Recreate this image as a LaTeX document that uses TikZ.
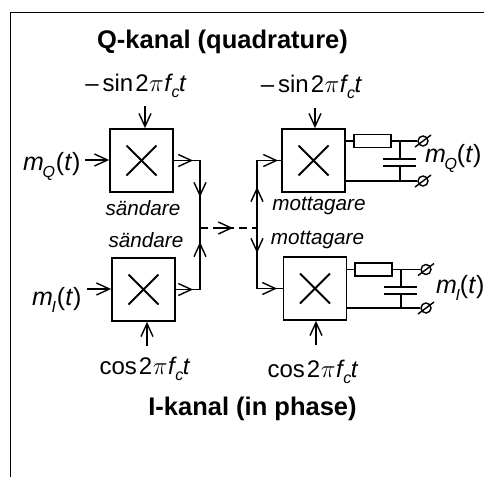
\documentclass[tikz,border=0pt]{standalone}
\usepackage{fontspec}
\setmainfont{Liberation Sans}
\usepackage{tikz}
\usetikzlibrary{arrows.meta,positioning}
\newcommand{\lowsub}[1]{\kern-0.06em\raisebox{-0.28em}{\fontsize{16}{16}\selectfont\textit{#1}}}
\newcommand{\carrier}{2\kern0.5pt$\pi$\kern0.5pt\textit{f}\lowsub{c}\kern-0.02em\textit{t}}

\begin{document}
\begin{tikzpicture}[
    x=1pt, y=-1pt,
    mixer/.style={draw, line width=1.8pt, minimum size=63pt, inner sep=0pt},
    res/.style={draw, line width=1.8pt, minimum width=37pt, minimum height=13pt, inner sep=0pt},
    wire/.style={line width=1.8pt},
    sig/.style={line width=1.4pt, -{Straight Barb[length=13pt,width=12pt]}},
    heading/.style={font=\fontsize{25.5}{28}\selectfont\bfseries, inner sep=0pt, anchor=base},
    lab/.style={font=\fontsize{24}{26}\selectfont, inner sep=0pt, anchor=base},
    msg/.style={font=\fontsize{25}{27}\selectfont, inner sep=0pt, anchor=base west},
    tag/.style={font=\fontsize{20.7}{23}\selectfont\itshape, inner sep=0pt, anchor=base},
    term/.style={circle, draw, line width=1.4pt, minimum size=10pt, inner sep=0pt}
]
\useasboundingbox (0,0) rectangle (484,477);
\draw[line width=1pt] (484,12.5) -- (10.5,12.5) -- (10.5,477);

\node[heading] (titleq) at (222.5,48) {Q-kanal (quadrature)};
\node[heading] (titlei) at (252.5,415) {I-kanal (in phase)};

% mixers
\node[mixer] (txq) at (141.5,160.5) {};
\node[mixer] (txi) at (143.5,289.5) {};
\node[mixer] (rxq) at (313.5,160.5) {};
\node[mixer] (rxi) at (315,288.5) {};
\foreach \m in {txq,txi,rxq,rxi} {
    \draw[wire] ([shift={(-15,-15)}]\m.center) -- ([shift={(15,15)}]\m.center);
    \draw[wire] ([shift={(-15,15)}]\m.center) -- ([shift={(15,-15)}]\m.center);
}

\node[lab] (oscq) at (136,91) {–\kern4pt sin\kern2pt\carrier};
\node[lab] (osci) at (145,374) {cos\kern2pt\carrier};
\node[lab] (oscq2) at (311.5,92) {–\kern4pt sin\kern2pt\carrier};
\node[lab] (osci2) at (313,377) {cos\kern2pt\carrier};
\node[msg] (msgq) at (23,170) {\textit{m}\lowsub{Q}\kern1pt(\textit{t})};
\node[msg] (msgi) at (32,305) {\textit{m}\lowsub{I}\kern1pt(\textit{t})};
\node[msg] (outq) at (425,162) {\textit{m}\lowsub{Q}(\textit{t})};
\node[msg] (outi) at (436,293) {\textit{m}\lowsub{I}(\textit{t})};
\node[tag] (sq) at (143,215) {sändare};
\node[tag] (si) at (146,247) {sändare};
\node[tag] (mq) at (319,210) {mottagare};
\node[tag] (mi) at (317.5,244) {mottagare};

% inputs
\coordinate (oscqend) at (145,106);
\coordinate (osciend) at (147,346);
\coordinate (oscq2end) at (315,108);
\coordinate (osci2end) at (316,345);
\coordinate (msgqend) at (85,160);
\coordinate (msgiend) at (87,289);
\draw[sig] (oscqend) -- (oscqend |- txq.north);
\draw[sig] (osciend) -- (osciend |- txi.south);
\draw[sig] (oscq2end) -- (oscq2end |- rxq.north);
\draw[sig] (osci2end) -- (osci2end |- rxi.south);
\draw[sig] (msgqend) -- (msgqend -| txq.west);
\draw[sig] (msgiend) -- (msgiend -| txi.west);

% channel
\coordinate (txbus) at (200,228);
\coordinate (rxbus) at (257,228);
\draw[wire] (txq.east) -- (txbus |- txq.east) -- (txbus |- txi.east) -- (txi.east);
\draw[wire] (rxq.west) -- (rxbus |- rxq.west) -- (rxbus |- rxi.west) -- (rxi.west);
\draw[line width=1.5pt, dash pattern=on 8pt off 5pt] (txbus) -- (rxbus);
\coordinate (a1) at (193,160.5);
\coordinate (a2) at (193,289.5);
\coordinate (a3) at (200,197);
\coordinate (a4) at (200,242);
\coordinate (a5) at (233,228);
\coordinate (a6) at (257,187);
\coordinate (a7) at (257,253);
\coordinate (a8) at (278,160.5);
\coordinate (a9) at (277,288.5);
\foreach \p/\q in {a1/{(-13,0)}, a2/{(-13,0)}, a3/{(0,-13)}, a4/{(0,13)}, a5/{(-13,0)}, a6/{(0,13)}, a7/{(0,-13)}, a8/{(-13,0)}, a9/{(-13,0)}}
    \draw[sig] ([shift=\q]\p) -- (\p);

% output filters
\node[res] (rq) at (372.5,141) {};
\node[res] (ri) at (373.5,269.5) {};
\node[term] (tq1) at (423,141) {};
\node[term] (tq2) at (423,181) {};
\node[term] (ti1) at (426,269.5) {};
\node[term] (ti2) at (426,308) {};
\foreach \t in {tq1,tq2,ti1,ti2}
    \draw[line width=1.4pt] ([shift={(-8,6)}]\t.center) -- ([shift={(8,-6)}]\t.center);

\coordinate (cq) at (400,141);
\coordinate (ci) at (401,269.5);
\draw[wire] (rxq.east |- rq) -- (rq.west) (rq.east) -- (tq1.west);
\draw[wire] (rxq.east |- tq2) -- (tq2.west);
\draw[wire] (rxi.east |- ri) -- (ri.west) (ri.east) -- (ti1.west);
\draw[wire] (rxi.east |- ti2) -- (ti2.west);
\draw[wire] (cq) -- (400,159) (400,166) -- (400,181);
\draw[wire] (383,159) -- (416,159) (383,166) -- (416,166);
\draw[wire] (ci) -- (401,287) (401,294) -- (401,308);
\draw[wire] (384,287) -- (417,287) (384,294) -- (417,294);
\end{tikzpicture}
\end{document}
